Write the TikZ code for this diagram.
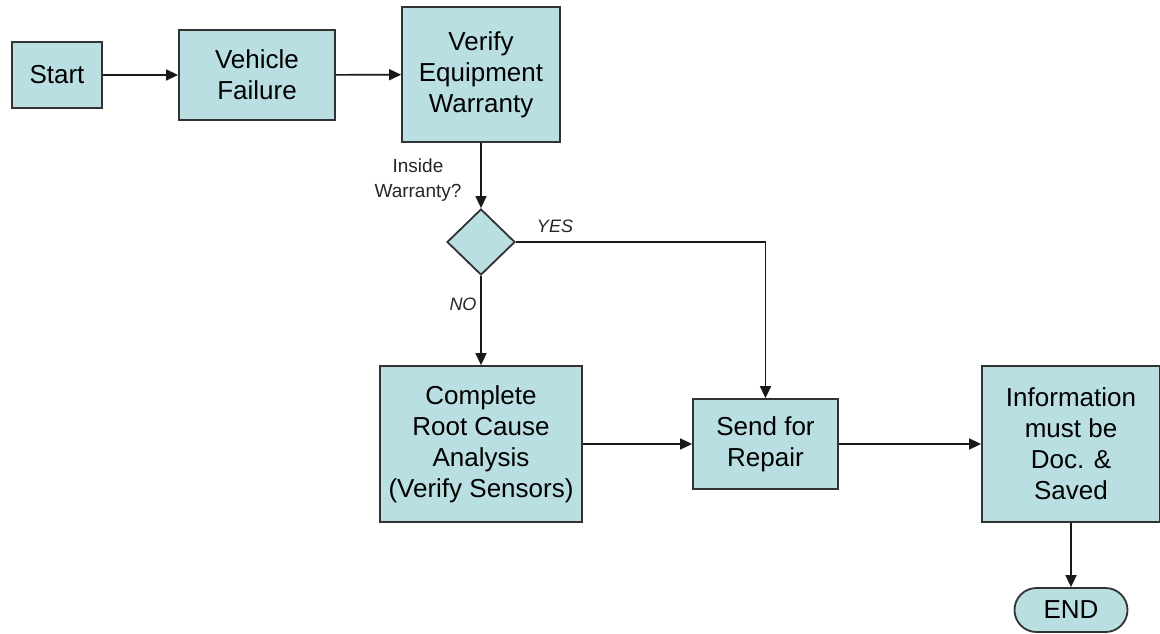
\documentclass[tikz,border=0pt]{standalone}
\usepackage{fontspec}
\setmainfont{Liberation Sans}
\usetikzlibrary{shapes.geometric,arrows.meta}
\definecolor{boxfill}{RGB}{186,223,227}
\definecolor{boxline}{RGB}{50,50,50}
\tikzset{
  procbox/.style={draw=boxline, line width=1.8pt, fill=boxfill, inner sep=0pt,
    align=center, font=\fontsize{26}{31}\selectfont},
  decision/.style={diamond, draw=boxline, line width=1.8pt, fill=boxfill,
    inner sep=0pt, minimum width=68pt, minimum height=66pt},
  terminal/.style={draw=boxline, line width=1.8pt, fill=boxfill, inner sep=0pt,
    rounded corners=22pt, font=\fontsize{26}{31}\selectfont},
  flow/.style={draw=black!90, line width=1.6pt, -{Triangle[length=12pt,width=11pt]}},
  cond/.style={font=\fontsize{19}{25}\selectfont\color{black!85}, align=center},
  answer/.style={font=\fontsize{18}{22}\selectfont\itshape\color{black!85}}
}
\begin{document}
\begin{tikzpicture}[x=1pt,y=-1pt]
\useasboundingbox[fill=white] (0,0) rectangle (1160,633);

% process steps
\node[procbox, minimum width=90pt, minimum height=66pt] (start) at (57,75) {Start};
\node[procbox, minimum width=156pt, minimum height=90pt] (fail) at (257,75) {Vehicle\\Failure};
\node[procbox, minimum width=158pt, minimum height=135pt] (warr) at (481,74.5) {Verify\\Equipment\\Warranty};
\node[decision] (dec) at (481,242) {};
\node[procbox, minimum width=202pt, minimum height=156pt] (rca) at (481,444) {Complete\\Root Cause\\Analysis\\(Verify Sensors)};
\node[procbox, minimum width=145pt, minimum height=90pt] (rep) at (765.5,444) {Send for\\Repair};
\node[procbox, minimum width=178pt, minimum height=156pt] (info) at (1071,444) {Information\\must be\\Doc. \&\\Saved};
\node[terminal, minimum width=113pt, minimum height=44pt] (end) at (1071,610) {END};

% labels
\node[cond] (qlbl) at (418,180) {Inside\\Warranty?};
\node[answer] (yes) at (555,226) {YES};
\node[answer] (no) at (463,304) {NO};

% connectors
\draw[flow] (start) -- (fail);
\draw[flow] (fail) -- (warr);
\draw[flow] (warr) -- (dec);
\draw[flow] (dec) -- (rca);
\draw[flow] (dec.east) -| (rep.north);
\draw[flow] (rca) -- (rep);
\draw[flow] (rep) -- (info);
\draw[flow] (info) -- (end);
\end{tikzpicture}
\end{document}
